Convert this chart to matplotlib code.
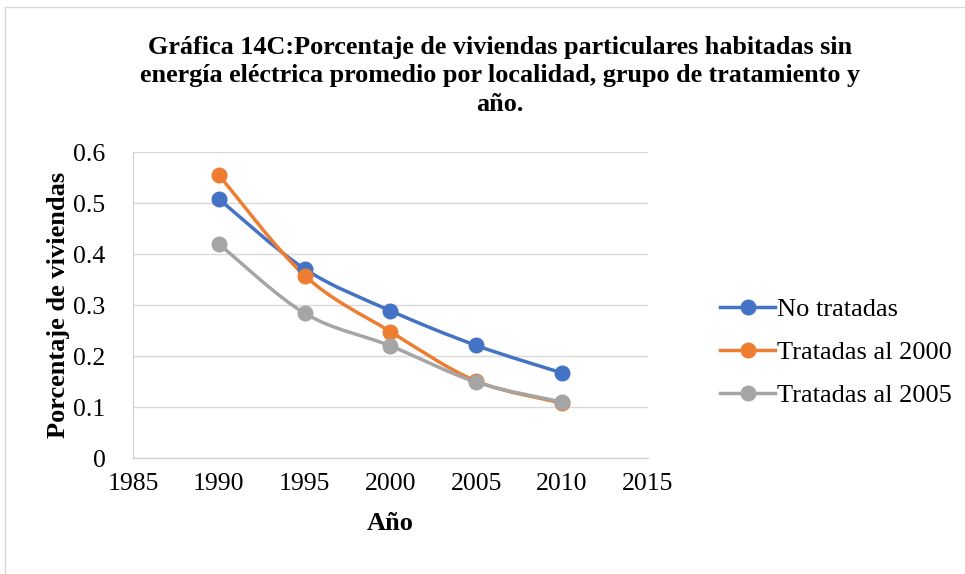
import numpy as np
import matplotlib.pyplot as plt
from matplotlib.path import Path
from matplotlib.patches import PathPatch
from matplotlib.lines import Line2D

plt.rcParams['font.family'] = ['Liberation Serif', 'DejaVu Serif']

years = [1990, 1995, 2000, 2005, 2010]
no_tratadas = [0.508, 0.371, 0.289, 0.221, 0.167]
tratadas_2000 = [0.555, 0.358, 0.248, 0.151, 0.108]
tratadas_2005 = [0.420, 0.284, 0.220, 0.149, 0.110]
series_names = ['No tratadas', 'Tratadas al 2000', 'Tratadas al 2005']
colors = ['#4472C4', '#ED7D31', '#A5A5A5']


def smooth_path(x, y):
    # bezier through the points, like excel's smoothed line
    x = np.asarray(x, float)
    y = np.asarray(y, float)
    verts = [(x[0], y[0])]
    codes = [Path.MOVETO]
    n = len(x)
    for i in range(n - 1):
        i0 = max(i - 1, 0)
        i3 = min(i + 2, n - 1)
        c1 = (x[i] + (x[i + 1] - x[i0]) / 6, y[i] + (y[i + 1] - y[i0]) / 6)
        c2 = (x[i + 1] - (x[i3] - x[i]) / 6, y[i + 1] - (y[i3] - y[i]) / 6)
        verts += [c1, c2, (x[i + 1], y[i + 1])]
        codes += [Path.CURVE4] * 3
    return Path(verts, codes)


fig = plt.figure(figsize=(9.65, 5.74), dpi=100)
ax = fig.add_axes([0.138, 0.202, 0.533, 0.533])

for vals, c in zip([no_tratadas, tratadas_2000, tratadas_2005], colors):
    ax.add_patch(PathPatch(smooth_path(years, vals), facecolor='none',
                           edgecolor=c, lw=2.5, capstyle='round', zorder=3))
    ax.plot(years, vals, ls='none', marker='o', ms=10.5, color=c, zorder=4)

ax.set_xlim(1985, 2015)
ax.set_ylim(0, 0.6)
ax.set_xticks([1985, 1990, 1995, 2000, 2005, 2010, 2015])
ax.set_yticks([0, 0.1, 0.2, 0.3, 0.4, 0.5, 0.6])
ax.set_yticklabels(['0', '0.1', '0.2', '0.3', '0.4', '0.5', '0.6'])
ax.tick_params(length=0, labelsize=18.5)
ax.tick_params(axis='x', pad=11)
ax.tick_params(axis='y', pad=20)
ax.grid(axis='y', color='#d9d9d9', lw=1)
ax.set_axisbelow(True)
for s in ['top', 'right']:
    ax.spines[s].set_visible(False)
ax.spines['left'].set_color('#d0d0d0')
ax.spines['bottom'].set_color('#d0d0d0')

ax.set_xlabel('Año', fontsize=19, fontweight='bold', labelpad=12)
ax.set_ylabel('Porcentaje de viviendas', fontsize=19, fontweight='bold', labelpad=2)

fig.text(0.518, 0.868,
         'Gráfica 14C:Porcentaje de viviendas particulares habitadas sin\n'
         'energía eléctrica promedio por localidad, grupo de tratamiento y\n'
         'año.', ha='center', va='center', fontsize=18.8, fontweight='bold',
         linespacing=1.32)

handles = [Line2D([0], [0], color=c, lw=2.5, marker='o', ms=10.5) for c in colors]
fig.legend(handles, series_names, loc='center left', bbox_to_anchor=(0.735, 0.386),
           frameon=False, fontsize=19, handlelength=2.1, handletextpad=0.05,
           labelspacing=0.75, borderaxespad=0)

# chart area border (only left and top visible in the original)
fig.add_artist(Line2D([0.005, 0.005, 1.0], [0.0, 0.988, 0.988], transform=fig.transFigure,
                      color='#d9d9d9', lw=1))

fig.savefig('out.png', dpi=100)
